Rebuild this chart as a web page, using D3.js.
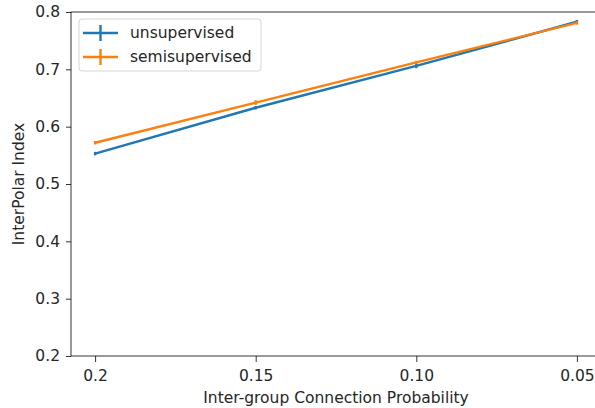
<!DOCTYPE html>
<html>
<head>
<meta charset="utf-8">
<script src="https://cdn.jsdelivr.net/npm/d3@7"></script>
<style>
  html, body { margin: 0; padding: 0; background: #fff; }
  svg { display: block; }
  text { font-family: "DejaVu Sans", sans-serif; fill: #262626; }
</style>
</head>
<body>
<script>
// Inter-group connection probabilities (categorical x positions)
const categories = ["0.2", "0.15", "0.10", "0.05"];
// InterPolar Index per method
const unsupervised = [0.553, 0.633, 0.706, 0.783];
const semisupervised = [0.572, 0.642, 0.712, 0.781];
// Standard errors (small)
const unsupervisedErr = [0.003, 0.003, 0.004, 0.003];
const semisupervisedErr = [0.003, 0.004, 0.003, 0.003];
const yTicks = [0.2, 0.3, 0.4, 0.5, 0.6, 0.7, 0.8];

const series = [
  { name: "unsupervised", values: unsupervised, err: unsupervisedErr, color: "#1f77b4" },
  { name: "semisupervised", values: semisupervised, err: semisupervisedErr, color: "#ff7f0e" }
];

const FS = "15.5px";
const W = 595, H = 408;
const margin = { left: 71, top: 12, right: -6, bottom: 52 };
const plotW = W - margin.left - margin.right;
const plotH = H - margin.top - margin.bottom;

const svg = d3.select("body").append("svg").attr("width", W).attr("height", H);
const g = svg.append("g").attr("transform", `translate(${margin.left},${margin.top})`);

const x = d3.scaleLinear().domain([-0.15, categories.length - 1 + 0.15]).range([0, plotW]);
const y = d3.scaleLinear().domain([0.2, 0.8]).range([plotH, 0]);

// Axes
const xAxis = d3.axisBottom(x).tickValues(d3.range(categories.length))
  .tickFormat(i => categories[i]).tickSize(6).tickPadding(8);
const yAxis = d3.axisLeft(y).tickValues(yTicks).tickFormat(d3.format(".1f"))
  .tickSize(5).tickPadding(6);

const gx = g.append("g").attr("transform", `translate(0,${plotH})`).call(xAxis);
const gy = g.append("g").call(yAxis);
[gx, gy].forEach(a => {
  a.select(".domain").remove();
  a.selectAll("line").attr("stroke", "#000").attr("stroke-width", 0.8);
  a.selectAll("text").style("font-size", FS).attr("fill", "#262626");
});

// Spines
g.append("rect").attr("x", 0).attr("y", 0).attr("width", plotW).attr("height", plotH)
  .attr("fill", "none").attr("stroke", "#000").attr("stroke-width", 0.8);

// Lines with error bars
const line = d3.line().x((d, i) => x(i)).y(d => y(d));
series.forEach(s => {
  g.append("path").datum(s.values).attr("d", line)
    .attr("fill", "none").attr("stroke", s.color).attr("stroke-width", 2.4);
  g.selectAll(null).data(s.values).enter().append("line")
    .attr("x1", (d, i) => x(i)).attr("x2", (d, i) => x(i))
    .attr("y1", (d, i) => y(d - s.err[i])).attr("y2", (d, i) => y(d + s.err[i]))
    .attr("stroke", s.color).attr("stroke-width", 2.4);
});

// Axis labels
svg.append("text").attr("x", margin.left + x(1.5)).attr("y", 403)
  .attr("text-anchor", "middle").style("font-size", FS).text("Inter-group Connection Probability");
svg.append("text").attr("transform", `translate(24,${margin.top + plotH / 2}) rotate(-90)`)
  .attr("text-anchor", "middle").style("font-size", FS).text("InterPolar Index");

// Legend
const lg = g.append("g").attr("transform", "translate(8,7)");
lg.append("rect").attr("width", 182).attr("height", 52).attr("rx", 3)
  .attr("fill", "#fff").attr("fill-opacity", 0.8).attr("stroke", "#ccc").attr("stroke-width", 0.8);
series.forEach((s, i) => {
  const cy = 14 + i * 24;
  lg.append("line").attr("x1", 4).attr("x2", 39).attr("y1", cy).attr("y2", cy)
    .attr("stroke", s.color).attr("stroke-width", 2.4);
  lg.append("line").attr("x1", 21.5).attr("x2", 21.5).attr("y1", cy - 8).attr("y2", cy + 8)
    .attr("stroke", s.color).attr("stroke-width", 2.4);
  lg.append("text").attr("x", 51).attr("y", cy).attr("dy", "0.35em")
    .style("font-size", FS).text(s.name);
});
</script>
</body>
</html>
